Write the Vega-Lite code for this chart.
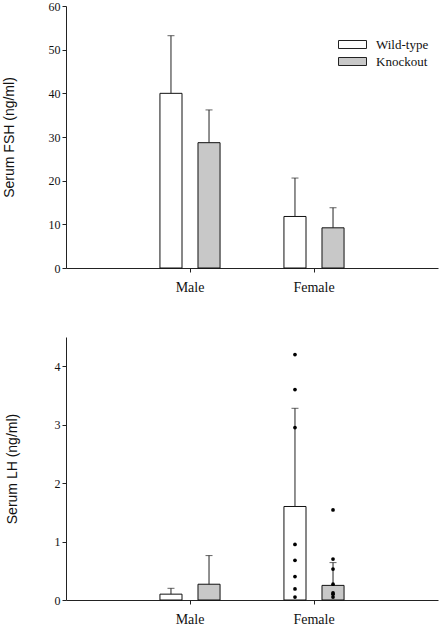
{
  "$schema": "https://vega.github.io/schema/vega-lite/v6.json",
  "background": "white",
  "padding": {"left": 2, "top": 0, "right": 6, "bottom": 5},
  "spacing": 69,
  "bounds": "flush",
  "config": {
    "view": {"stroke": null},
    "axis": {"domainColor": "#222", "tickColor": "#222", "labelFont": "Liberation Serif", "labelFontSize": 12, "labelColor": "#111", "titleFont": "Liberation Sans", "titleFontSize": 14, "titleFontWeight": "normal", "titleColor": "#111", "grid": false, "tickSize": 4},
    "legend": {"labelFont": "Liberation Serif", "labelFontSize": 13, "labelColor": "#111", "symbolType": "M-3.5,-1H3.5V1H-3.5Z", "symbolSize": 64, "symbolStrokeColor": "#222", "symbolStrokeWidth": 1, "labelOffset": 17, "rowPadding": 3}
  },
  "datasets": {
    "fsh": [
      {"Sex": "Male", "Genotype": "Wild-type", "mean": 40.0, "upper": 53.2},
      {"Sex": "Male", "Genotype": "Knockout", "mean": 28.7, "upper": 36.2},
      {"Sex": "Female", "Genotype": "Wild-type", "mean": 11.8, "upper": 20.6},
      {"Sex": "Female", "Genotype": "Knockout", "mean": 9.2, "upper": 13.8}
    ],
    "lh": [
      {"Sex": "Male", "Genotype": "Wild-type", "mean": 0.10, "upper": 0.20},
      {"Sex": "Male", "Genotype": "Knockout", "mean": 0.27, "upper": 0.76},
      {"Sex": "Female", "Genotype": "Wild-type", "mean": 1.60, "upper": 3.28},
      {"Sex": "Female", "Genotype": "Knockout", "mean": 0.25, "upper": 0.64}
    ],
    "lhpts": [
      {"Sex": "Female", "Genotype": "Wild-type", "value": 4.20},
      {"Sex": "Female", "Genotype": "Wild-type", "value": 3.60},
      {"Sex": "Female", "Genotype": "Wild-type", "value": 2.95},
      {"Sex": "Female", "Genotype": "Wild-type", "value": 0.95},
      {"Sex": "Female", "Genotype": "Wild-type", "value": 0.68},
      {"Sex": "Female", "Genotype": "Wild-type", "value": 0.40},
      {"Sex": "Female", "Genotype": "Wild-type", "value": 0.19},
      {"Sex": "Female", "Genotype": "Wild-type", "value": 0.05},
      {"Sex": "Female", "Genotype": "Knockout", "value": 1.54},
      {"Sex": "Female", "Genotype": "Knockout", "value": 0.70},
      {"Sex": "Female", "Genotype": "Knockout", "value": 0.53},
      {"Sex": "Female", "Genotype": "Knockout", "value": 0.27},
      {"Sex": "Female", "Genotype": "Knockout", "value": 0.12},
      {"Sex": "Female", "Genotype": "Knockout", "value": 0.10},
      {"Sex": "Female", "Genotype": "Knockout", "value": 0.05}
    ]
  },
  "vconcat": [
    {
      "width": 372,
      "height": 262,
      "data": {"name": "fsh"},
      "encoding": {
        "x": {"field": "Sex", "type": "nominal", "sort": ["Male", "Female"], "scale": {"paddingInner": 0, "paddingOuter": 0.5}, "axis": {"title": null, "labelAngle": 0, "labelFontSize": 14, "labelPadding": 8}},
        "xOffset": {"field": "Genotype", "type": "nominal", "sort": ["Wild-type", "Knockout"], "scale": {"paddingInner": 0.42, "paddingOuter": 0.84}}
      },
      "layer": [
        {"mark": {"type": "bar", "stroke": "#111", "strokeWidth": 1},
         "encoding": {
           "y": {"field": "mean", "type": "quantitative", "scale": {"domain": [0, 60], "nice": false}, "axis": {"title": "Serum FSH (ng/ml)", "values": [0, 10, 20, 30, 40, 50, 60], "titlePadding": 32}},
           "fill": {"field": "Genotype", "type": "nominal", "scale": {"domain": ["Wild-type", "Knockout"], "range": ["#ffffff", "#c8c8c8"]}, "legend": {"title": null, "orient": "none", "legendX": 280, "legendY": 32}}
         }},
        {"mark": {"type": "rule", "color": "#222", "strokeWidth": 1},
         "encoding": {"y": {"field": "mean", "type": "quantitative", "title": "Serum FSH (ng/ml)"}, "y2": {"field": "upper"}}},
        {"mark": {"type": "tick", "orient": "horizontal", "size": 7, "thickness": 1, "color": "#222"},
         "encoding": {"y": {"field": "upper", "type": "quantitative", "title": "Serum FSH (ng/ml)"}}}
      ]
    },
    {
      "width": 372,
      "height": 263,
      "encoding": {
        "x": {"field": "Sex", "type": "nominal", "sort": ["Male", "Female"], "scale": {"paddingInner": 0, "paddingOuter": 0.5}, "axis": {"title": null, "labelAngle": 0, "labelFontSize": 14, "labelPadding": 8}},
        "xOffset": {"field": "Genotype", "type": "nominal", "sort": ["Wild-type", "Knockout"], "scale": {"paddingInner": 0.42, "paddingOuter": 0.84}}
      },
      "layer": [
        {"data": {"name": "lh"},
         "mark": {"type": "bar", "stroke": "#111", "strokeWidth": 1},
         "encoding": {
           "y": {"field": "mean", "type": "quantitative", "scale": {"domain": [0, 4.5], "nice": false}, "axis": {"title": "Serum LH (ng/ml)", "values": [0, 1, 2, 3, 4], "format": "d", "titlePadding": 35}},
           "fill": {"field": "Genotype", "type": "nominal", "scale": {"domain": ["Wild-type", "Knockout"], "range": ["#ffffff", "#c8c8c8"]}, "legend": {"title": null, "orient": "none", "legendX": 280, "legendY": 32}}
         }},
        {"data": {"name": "lh"},
         "mark": {"type": "rule", "color": "#222", "strokeWidth": 1},
         "encoding": {"y": {"field": "mean", "type": "quantitative", "title": "Serum LH (ng/ml)"}, "y2": {"field": "upper"}}},
        {"data": {"name": "lh"},
         "mark": {"type": "tick", "orient": "horizontal", "size": 7, "thickness": 1, "color": "#222"},
         "encoding": {"y": {"field": "upper", "type": "quantitative", "title": "Serum LH (ng/ml)"}}},
        {"data": {"name": "lhpts"},
         "mark": {"type": "circle", "size": 14, "color": "#000", "opacity": 1},
         "encoding": {"y": {"field": "value", "type": "quantitative", "title": "Serum LH (ng/ml)"}}}
      ]
    }
  ]
}
